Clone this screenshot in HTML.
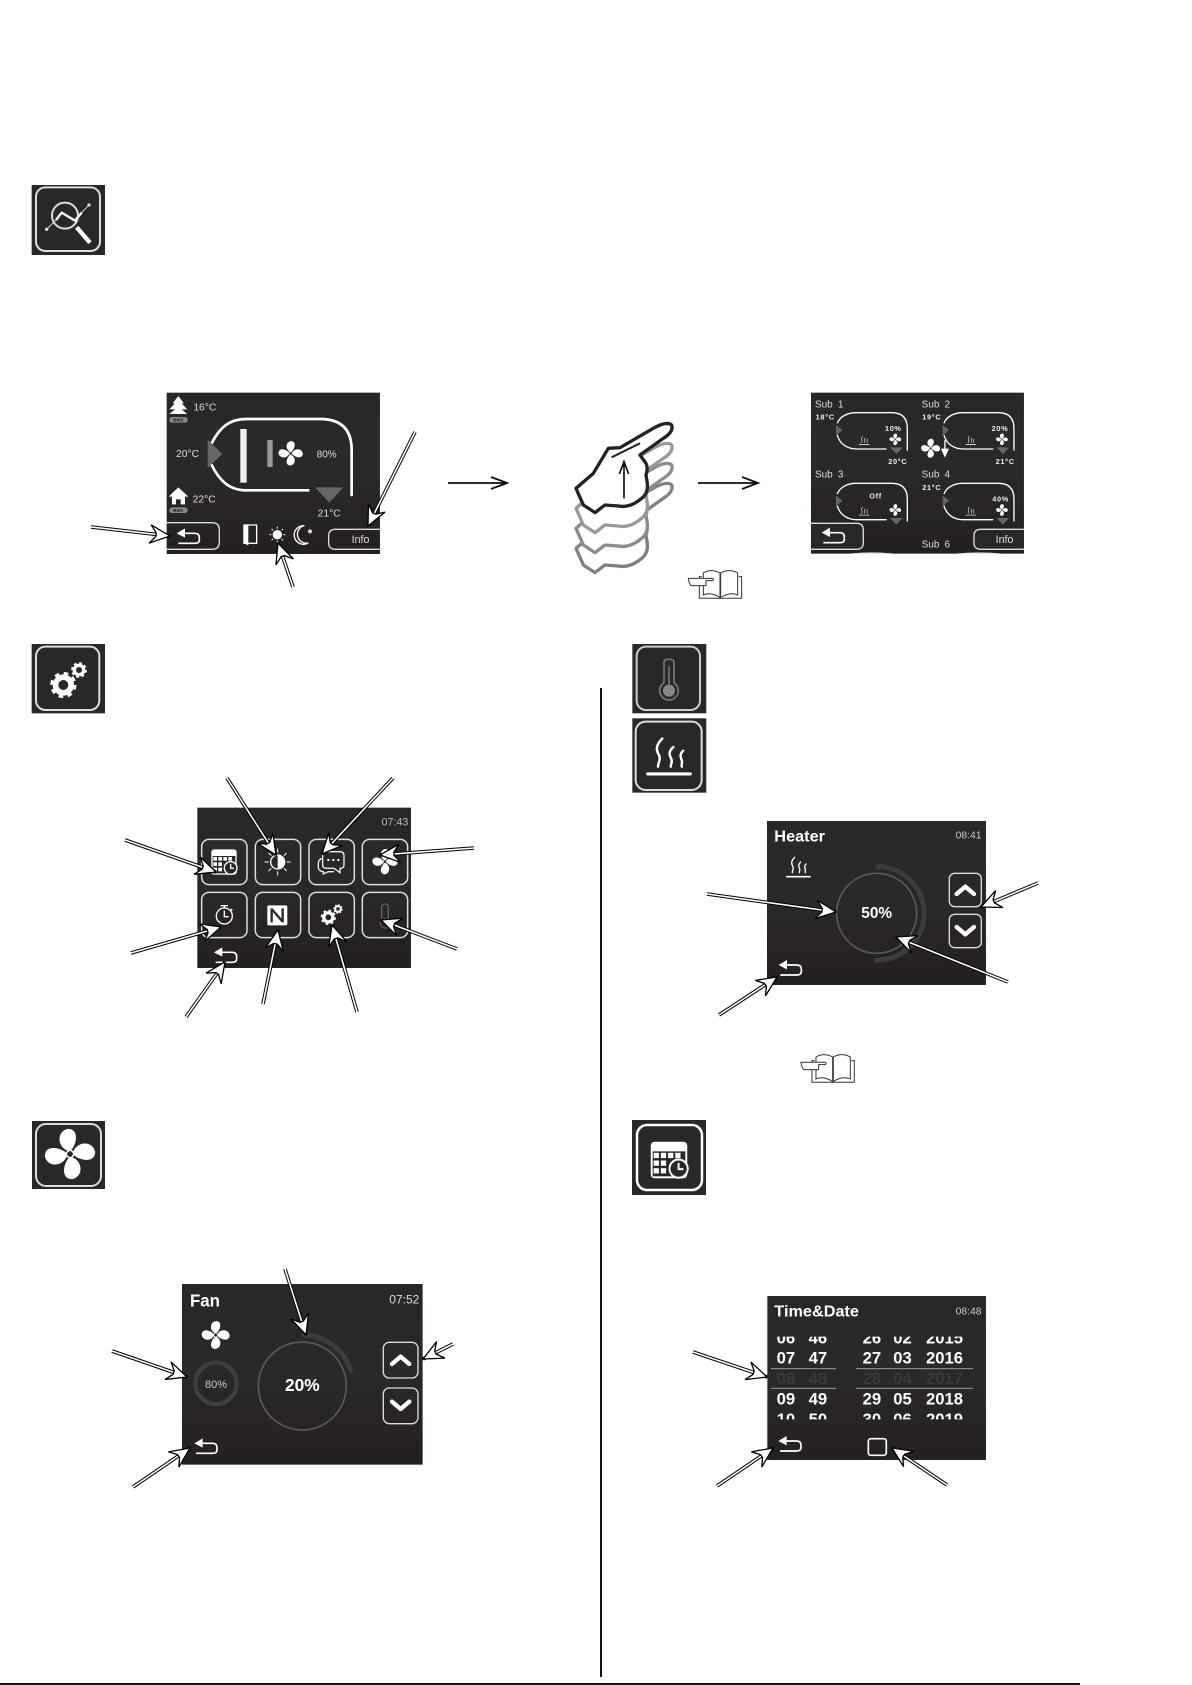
<!DOCTYPE html>
<html><head><meta charset="utf-8">
<style>
html,body{margin:0;padding:0;background:#fff}
svg{display:block}
text{font-family:"Liberation Sans",sans-serif}
</style></head><body>
<svg xmlns="http://www.w3.org/2000/svg" width="1192" height="1685" viewBox="0 0 1192 1685">
<defs>
<linearGradient id="scr" x1="0" y1="0" x2="0" y2="1">
<stop offset="0" stop-color="#2a2728"/><stop offset=".5" stop-color="#2b2829"/><stop offset="1" stop-color="#242021"/>
</linearGradient>
<marker id="h" viewBox="-24 -12 26 24" refX="0" refY="0" markerWidth="26" markerHeight="24" markerUnits="userSpaceOnUse" orient="auto">
<path d="M0,0 L-20,-9 L-14,-1.5 L-14,2 L-20,9.5 Z" fill="#fff" stroke="#000" stroke-width="1.3"/>
</marker>
<g id="back"><path d="M0,0 L25,-15 V13 Z" fill="#fff"/><path d="M25,0 H55 Q68,0 68,13 V20 Q68,30 55,30 H5" fill="none" stroke="#fff" stroke-width="5"/></g>
<g id="fan" fill="#fff">
<g id="bl"><path d="M-3,-6 C-19,-14 -18,-40 2,-42 C20,-40 15,-18 4,-7 Z"/></g>
<use href="#bl" transform="rotate(90)"/><use href="#bl" transform="rotate(180)"/><use href="#bl" transform="rotate(270)"/>
<circle r="6" fill="none" stroke="#fff" stroke-width="2.5"/>
</g>
<g id="heat" fill="none" stroke="#fff" stroke-width="4" stroke-linecap="round">
<path d="M0,60 H70" stroke-width="5"/>
<path d="M24,2 C12,14 14,22 19,30 C22,38 16,44 17,48"/>
<path d="M42,16 C33,24 36,30 39,36 C41,42 37,45 38,48"/>
<path d="M58,22 C52,28 54,33 56,38 C57,42 55,45 56,48"/>
</g>
<g id="cal">
<rect x="-38" y="-38" width="76" height="76" rx="8" fill="#fff"/>
<rect x="-34" y="-18" width="68" height="52" fill="#2a2728"/>
<g fill="#fff">
<rect x="-32" y="-15" width="11" height="11"/><rect x="-17" y="-15" width="11" height="11"/><rect x="-2" y="-15" width="11" height="11"/><rect x="13" y="-15" width="11" height="11"/>
<rect x="-32" y="1" width="11" height="11"/><rect x="-17" y="1" width="11" height="11"/>
<rect x="-32" y="17" width="11" height="11"/><rect x="-17" y="17" width="11" height="11"/>
</g>
<circle cx="20" cy="18" r="19" fill="#2a2728" stroke="#fff" stroke-width="4"/>
<path d="M20,6 V19 H30" fill="none" stroke="#fff" stroke-width="4"/>
</g>
<g id="gear">
<circle r="32" fill="#fff"/>
<circle r="35" fill="none" stroke="#fff" stroke-width="9" stroke-dasharray="13.7 13.8"/>
<circle r="15" fill="#2a2728"/>
</g>
<g id="chev"><path d="M-26,12 L0,-10 L26,12" fill="none" stroke="#fff" stroke-width="13" stroke-linecap="round" stroke-linejoin="round"/></g>
<g id="loop">
<path d="M892,130 C900,108 925,98 948,98 H1055 Q1102,98 1102,145 V212" fill="none" stroke="#fff" stroke-width="4"/>
<path d="M892,165 C900,195 925,207 950,207 H1040" fill="none" stroke="#fff" stroke-width="4"/>
<path d="M888,135 L907,150 L888,168 Z" fill="#666"/>
<path d="M1050,202 H1088 L1069,222 Z" fill="#666"/>
<use href="#heat" transform="translate(958,168) scale(.42)"/>
<use href="#fan" transform="translate(1066,178) scale(.42)"/>
</g>
<g id="book" fill="none" stroke="#333" stroke-width="3">
<path d="M8,25 H0 V90 H127 V25 H118"/>
<path d="M12,80 V14 Q35,0 62,14 V88 Q35,70 12,80 Z" fill="#fff"/>
<path d="M64,14 Q90,0 115,14 V80 Q90,70 64,88 Z" fill="#fff"/>
<path d="M-33,30 H40 Q45,33 40,37 H20 V52 H-25 Q-33,40 -33,30 Z" fill="#fff"/>
</g>
<g id="hand">
<path d="M108,325 L160,280 L205,205 L240,203 L340,145 Q380,122 395,135 Q402,155 370,175 L300,225 L318,250 Q325,265 318,285 L322,310 Q325,340 305,355 Q270,385 235,378 L195,375 L165,398 L130,375 Z" fill="#fff" stroke-width="10" stroke-linejoin="round"/>
</g>
</defs>

<rect width="1192" height="1685" fill="#fff"/>

<!-- Rules -->
<rect x="600" y="688" width="2" height="989" fill="#111"/>
<rect x="0" y="1683" width="1080" height="2" fill="#111"/>

<!-- Analyzer icon -->
<g transform="translate(20,170) scale(.3333)">
<rect x="35" y="45" width="220" height="210" fill="#2a2728"/>
<rect x="48" y="52" width="192" height="191" rx="28" fill="none" stroke="#ddd" stroke-width="6"/>
<circle cx="135" cy="137" r="39" fill="none" stroke="#ddd" stroke-width="6"/>
<path d="M170,172 L210,218" stroke="#fff" stroke-width="13"/>
<path d="M80,178 L108,150 M185,128 L207,105" fill="none" stroke="#ccc" stroke-width="3"/>
<path d="M108,150 L125,128 L165,152 L185,128" fill="none" stroke="#fff" stroke-width="7" stroke-linejoin="round"/>
<circle cx="80" cy="178" r="5" fill="#ddd"/><circle cx="207" cy="105" r="5" fill="#ddd"/>
</g>

<!-- Gear icon -->
<g transform="translate(20,630) scale(.3333)">
<rect x="35" y="42" width="220" height="208" fill="#2a2728"/>
<rect x="48" y="50" width="190" height="190" rx="28" fill="none" stroke="#ddd" stroke-width="6"/>
<use href="#gear" transform="translate(130,165)"/>
<use href="#gear" transform="translate(177,120) scale(.6)"/>
</g>

<!-- Thermometer + heat icons -->
<g transform="translate(620,630) scale(.3333)">
<rect x="37" y="42" width="222" height="208" fill="#2a2728"/>
<rect x="50" y="50" width="190" height="190" rx="28" fill="none" stroke="#ccc" stroke-width="6"/>
<path d="M132,158 V98 Q132,88 147,88 Q162,88 162,98 V158 Q175,168 175,182 A28,28 0 1 1 119,182 Q119,168 132,158 Z" fill="none" stroke="#777" stroke-width="5"/>
<circle cx="147" cy="182" r="18" fill="#888"/><rect x="145" y="110" width="4" height="60" fill="#888"/>
<rect x="37" y="265" width="222" height="223" fill="#2a2728"/>
<rect x="47" y="275" width="198" height="205" rx="30" fill="none" stroke="#ddd" stroke-width="6"/>
<use href="#heat" transform="translate(83,322) scale(1.83)"/>
</g>

<!-- Fan icon -->
<rect x="32" y="1121" width="73" height="68" fill="#2a2728"/>
<rect x="36" y="1124" width="65" height="62" rx="10" fill="none" stroke="#ddd" stroke-width="2"/>
<use href="#fan" transform="translate(70,1154) scale(.6) rotate(-8)"/>

<!-- Calendar icon -->
<rect x="632" y="1120" width="74" height="75" fill="#2a2728"/>
<rect x="637" y="1125" width="65" height="65" rx="10" fill="none" stroke="#fff" stroke-width="2.5"/>
<use href="#cal" transform="translate(669,1160) scale(.48)"/>

<!-- Screen 1 -->
<g transform="translate(60,370) scale(.3333)">
<rect x="320" y="68" width="640" height="484" fill="url(#scr)"/>
<path d="M355,78 L372,100 H365 L382,118 H365 L382,132 H328 L345,118 H328 L345,100 H338 Z" fill="#fff"/>
<rect x="328" y="141" width="55" height="17" rx="8" fill="#888"/>
<text x="355" y="155" font-size="14" font-weight="bold" fill="#222" text-anchor="middle">BMS</text>
<text x="400" y="122" font-size="31" fill="#ddd">16°C</text>
<path d="M455,220 C480,170 510,147 560,147 H780 Q875,147 875,240 V375" fill="none" stroke="#fff" stroke-width="8" stroke-linecap="round"/>
<path d="M455,285 C480,335 510,361 560,361 H745" fill="none" stroke="#fff" stroke-width="8" stroke-linecap="round"/>
<path d="M443,208 L487,252 L443,294 Z" fill="#666"/>
<path d="M765,352 H850 L808,398 Z" fill="#666"/>
<rect x="541" y="177" width="19" height="161" fill="#eee"/>
<rect x="622" y="210" width="16" height="81" fill="#999"/>
<use href="#fan" transform="translate(692,250) scale(.87)"/>
<text x="348" y="261" font-size="31" fill="#ddd">20°C</text>
<text x="770" y="262" font-size="30" fill="#ddd">80%</text>
<text x="773" y="440" font-size="31" fill="#ddd">21°C</text>
<text x="398" y="398" font-size="31" fill="#ddd">22°C</text>
<path d="M355,352 L385,380 H375 V403 H362 V388 H348 V403 H336 V380 H326 Z" fill="#fff"/>
<rect x="328" y="412" width="55" height="17" rx="8" fill="#888"/>
<text x="355" y="426" font-size="14" font-weight="bold" fill="#222" text-anchor="middle">BMS</text>
<path d="M320,458 H456 Q478,458 478,480 V516 Q478,538 456,538 H320" fill="none" stroke="#ddd" stroke-width="4"/>
<use href="#back" transform="translate(350,490)"/>
<path d="M552,465 H590 V520 H552 Z" fill="none" stroke="#fff" stroke-width="4"/>
<path d="M565,462 L552,468 V520 L565,526 Z" fill="#fff"/>
<circle cx="652" cy="494" r="14" fill="#fff"/>
<path d="M652,470 V476 M652,512 V518 M628,494 H634 M670,494 H676 M635,477 L639,481 M669,477 L665,481 M635,511 L639,507 M669,511 L665,507" stroke="#fff" stroke-width="3"/>
<path d="M733,467 A28,28 0 1 0 745,519 A24,24 0 0 1 733,467 Z" fill="none" stroke="#fff" stroke-width="4"/>
<circle cx="750" cy="484" r="6" fill="#ddd"/>
<path d="M960,478 H826 Q806,478 806,498 V518 Q806,538 826,538 H960" fill="none" stroke="#ddd" stroke-width="4"/>
<text x="875" y="519" font-size="32" fill="#ddd">Info</text>
</g>

<!-- Hand -->
<g transform="translate(540,380) scale(.3333)">
<use href="#hand" transform="translate(0,180)" stroke="#808080"/>
<use href="#hand" transform="translate(0,120)" stroke="#8c8c8c"/>
<use href="#hand" transform="translate(0,60)" stroke="#999"/>
<use href="#hand" stroke="#222"/>
<path d="M215,232 L300,190" stroke="#222" stroke-width="6"/>
<path d="M252,355 V248 M238,282 L252,245 L266,282" fill="none" stroke="#111" stroke-width="5"/>
<use href="#book" transform="translate(478,565)"/>
<use href="#book" transform="translate(816,2017)"/>
</g>

<!-- Big arrows -->
<path d="M448,483 H507 M491,477 L507,483 L491,489" fill="none" stroke="#111" stroke-width="1.8"/>
<path d="M698,483 H758 M742,477 L758,483 L742,489" fill="none" stroke="#111" stroke-width="1.8"/>

<!-- Sub screen -->
<g transform="translate(540,380) scale(.3333)">
<rect x="813" y="38" width="639" height="483" fill="url(#scr)"/>
<use href="#loop"/>
<use href="#loop" transform="translate(320,0)"/>
<use href="#loop" transform="translate(0,212)"/>
<use href="#loop" transform="translate(320,212)"/>
<g font-size="30" fill="#ddd" word-spacing="7">
<text x="825" y="82">Sub 1</text><text x="1145" y="82">Sub 2</text>
<text x="825" y="293">Sub 3</text><text x="1145" y="293">Sub 4</text>
<text x="1145" y="503">Sub 6</text>
</g>
<g font-size="22" font-weight="bold" fill="#eee" letter-spacing="2">
<text x="827" y="118">18°C</text><text x="1147" y="118">19°C</text><text x="1147" y="330">21°C</text>
<text x="1045" y="252">20°C</text><text x="1367" y="252">21°C</text>
<text x="1035" y="153">10%</text><text x="1355" y="153">20%</text>
<text x="988" y="355">Off</text><text x="1357" y="365">40%</text>
</g>
<use href="#fan" transform="translate(1172,205) scale(.68)"/>
<path d="M1215,180 V208 M1206,208 H1224 L1215,228 Z" fill="#fff" stroke="#fff" stroke-width="4"/>
<path d="M813,430 H950 Q970,430 970,450 V488 Q970,508 950,508 H813" fill="#2a2728" stroke="#ddd" stroke-width="4"/>
<use href="#back" transform="translate(845,458)"/>
<path d="M1452,448 H1322 Q1302,448 1302,468 V488 Q1302,508 1322,508 H1452" fill="#2a2728" stroke="#ddd" stroke-width="4"/>
<text x="1367" y="489" font-size="32" fill="#ddd">Info</text>
<path d="M925,521 Q995,514 1065,521 Z M1245,521 Q1315,514 1390,521 Z" fill="#fff"/>
</g>

<!-- Menu screen -->
<g transform="translate(110,760) scale(.3333)">
<rect x="262" y="143" width="641" height="481" fill="url(#scr)"/>
<text x="815" y="196" font-size="32" fill="#bbb">07:43</text>
<g fill="none" stroke="#ddd" stroke-width="4.5">
<rect x="275" y="238" width="136" height="136" rx="22"/><rect x="436" y="238" width="136" height="136" rx="22"/>
<rect x="597" y="238" width="136" height="136" rx="22"/><rect x="757" y="238" width="136" height="136" rx="22"/>
<rect x="275" y="397" width="136" height="136" rx="22"/><rect x="436" y="397" width="136" height="136" rx="22"/>
<rect x="597" y="397" width="136" height="136" rx="22"/><rect x="757" y="397" width="136" height="136" rx="22"/>
</g>
<use href="#cal" transform="translate(342,306)"/>
<circle cx="503" cy="306" r="21" fill="none" stroke="#fff" stroke-width="4"/>
<path d="M503,285 A21,21 0 0 1 503,327 Z" fill="#fff"/>
<path d="M503,266 V278 M503,334 V346 M464,306 H476 M530,306 H542 M476,279 L484,287 M530,279 L522,287 M476,333 L484,325 M530,333 L522,325" stroke="#fff" stroke-width="3"/>
<path d="M640,275 H690 Q702,275 702,287 V315 Q702,325 690,325 V338 L672,325 H650 Q638,325 638,315 V287 Q638,275 650,275 Z" fill="none" stroke="#eee" stroke-width="4"/>
<path d="M638,295 Q625,298 625,310 V325 Q630,335 640,335 V342 L655,335 H672" fill="none" stroke="#eee" stroke-width="4"/>
<circle cx="655" cy="300" r="3.5" fill="#fff"/><circle cx="670" cy="300" r="3.5" fill="#fff"/><circle cx="685" cy="300" r="3.5" fill="#fff"/>
<use href="#fan" transform="translate(825,305) scale(.9)"/>
<circle cx="343" cy="468" r="24" fill="none" stroke="#fff" stroke-width="4"/>
<path d="M332,437 H354 M343,437 V444 M343,452 V470 H356 M362,447 L367,452" fill="none" stroke="#fff" stroke-width="4"/>
<rect x="472" y="436" width="60" height="60" rx="4" fill="#fff"/>
<path d="M485,445 V487 M485,447 L518,485 M518,445 V487" fill="none" stroke="#2a2728" stroke-width="7"/>
<use href="#gear" transform="translate(655,472) scale(.58)"/>
<use href="#gear" transform="translate(684,447) scale(.36)"/>
<path d="M815,485 V440 Q815,432 825,432 Q835,432 835,440 V478" fill="none" stroke="#666" stroke-width="4"/>
<circle cx="825" cy="490" r="14" fill="none" stroke="#555" stroke-width="4"/>
<use href="#back" transform="translate(312,577)"/>
</g>

<!-- Heater screen -->
<g transform="translate(690,800) scale(.3333)">
<rect x="231" y="63" width="657" height="492" fill="url(#scr)"/>
<text x="253" y="124" font-size="48" font-weight="bold" fill="#fff" textLength="152" lengthAdjust="spacingAndGlyphs">Heater</text>
<text x="797" y="116" font-size="31" fill="#ccc">08:41</text>
<use href="#heat" transform="translate(290,170)"/>
<circle cx="560" cy="340" r="120" fill="none" stroke="#5a5859" stroke-width="5"/>
<path d="M565,200 A140,140 0 0 1 560,480" fill="none" stroke="#3e3c3d" stroke-width="15" stroke-linecap="round"/>
<text x="560" y="354" font-size="46" font-weight="bold" fill="#fff" text-anchor="middle">50%</text>
<rect x="778" y="220" width="96" height="100" rx="16" fill="none" stroke="#ddd" stroke-width="4"/>
<rect x="778" y="343" width="96" height="100" rx="16" fill="none" stroke="#ddd" stroke-width="4"/>
<use href="#chev" transform="translate(826,270)"/>
<use href="#chev" transform="translate(826,393) rotate(180)"/>
<use href="#back" transform="translate(266,495)"/>
</g>

<!-- Fan screen -->
<g transform="translate(100,1260) scale(.3333)">
<rect x="246" y="72" width="722" height="542" fill="url(#scr)"/>
<text x="270" y="139" font-size="54" font-weight="bold" fill="#fff" textLength="90" lengthAdjust="spacingAndGlyphs">Fan</text>
<text x="868" y="131" font-size="36" fill="#ddd">07:52</text>
<use href="#fan" transform="translate(347,225)"/>
<circle cx="348" cy="370" r="62" fill="none" stroke="#403e3f" stroke-width="13"/>
<text x="348" y="384" font-size="33" fill="#ccc" text-anchor="middle">80%</text>
<circle cx="607" cy="378" r="132" fill="none" stroke="#5a5859" stroke-width="5"/>
<path d="M612,225 A153,153 0 0 1 752,330" fill="none" stroke="#3e3c3d" stroke-width="15" stroke-linecap="round"/>
<text x="607" y="393" font-size="52" font-weight="bold" fill="#fff" text-anchor="middle">20%</text>
<rect x="850" y="247" width="104" height="107" rx="18" fill="none" stroke="#ddd" stroke-width="4"/>
<rect x="850" y="384" width="104" height="107" rx="18" fill="none" stroke="#ddd" stroke-width="4"/>
<use href="#chev" transform="translate(902,300)"/>
<use href="#chev" transform="translate(902,437) rotate(180)"/>
<use href="#back" transform="translate(283,550)"/>
</g>

<!-- Time&Date screen -->
<g transform="translate(680,1280) scale(.3333)">
<rect x="262" y="48" width="656" height="492" fill="url(#scr)"/>
<text x="283" y="110" font-size="48" font-weight="bold" fill="#fff" textLength="254" lengthAdjust="spacingAndGlyphs">Time&amp;Date</text>
<text x="827" y="103" font-size="31" fill="#ccc">08:48</text>
<svg x="262" y="170" width="656" height="248" viewBox="262 170 656 248">
<g font-size="50" font-weight="bold" fill="#fff">
<text x="290" y="191">06</text><text x="386" y="191">46</text><text x="548" y="191">26</text><text x="640" y="191">02</text><text x="738" y="191">2015</text>
<text x="290" y="251">07</text><text x="386" y="251">47</text><text x="548" y="251">27</text><text x="640" y="251">03</text><text x="738" y="251">2016</text>
<g fill="#3a3839"><text x="290" y="312">08</text><text x="386" y="312">48</text><text x="548" y="312">28</text><text x="640" y="312">04</text><text x="738" y="312">2017</text></g>
<text x="290" y="374">09</text><text x="386" y="374">49</text><text x="548" y="374">29</text><text x="640" y="374">05</text><text x="738" y="374">2018</text>
<text x="290" y="435">10</text><text x="386" y="435">50</text><text x="548" y="435">30</text><text x="640" y="435">06</text><text x="738" y="435">2019</text>
</g>
<path d="M273,266 H468 M273,325 H468 M528,266 H879 M528,325 H879" stroke="#aaa" stroke-width="2.5"/>
</svg>
<rect x="565" y="476" width="54" height="50" rx="8" fill="none" stroke="#fff" stroke-width="5"/>
<use href="#back" transform="translate(295,483)"/>
</g>

<!-- Callouts -->
<g id="shafts" fill="none" stroke-linecap="butt">
<g stroke="#000" stroke-width="3.6">
<path d="M91,527 L170,536"/><path d="M415,432 L368,526"/><path d="M293,587 L278,543"/>
<path d="M125,840 L216,872"/><path d="M227,778 L276,855"/><path d="M393,778 L322,854"/><path d="M474,848 L380,855"/>
<path d="M131,953 L221,927"/><path d="M263,1004 L278,930"/><path d="M357,1012 L332,925"/><path d="M457,949 L381,920"/><path d="M186,1017 L225,962"/>
<path d="M707,894 L836,912"/><path d="M1038,883 L981,907"/><path d="M1008,982 L896,937"/><path d="M719,1015 L777,977"/>
<path d="M112,1351 L187,1377"/><path d="M285,1269 L306,1335"/><path d="M453,1344 L423,1359"/><path d="M133,1487 L190,1448"/>
<path d="M693,1352 L767,1377"/><path d="M717,1486 L773,1448"/><path d="M947,1485 L892,1448"/>
</g>
<g stroke="#fff" stroke-width="1.6" marker-end="url(#h)">
<path d="M91,527 L170,536"/><path d="M415,432 L368,526"/><path d="M293,587 L278,543"/>
<path d="M125,840 L216,872"/><path d="M227,778 L276,855"/><path d="M393,778 L322,854"/><path d="M474,848 L380,855"/>
<path d="M131,953 L221,927"/><path d="M263,1004 L278,930"/><path d="M357,1012 L332,925"/><path d="M457,949 L381,920"/><path d="M186,1017 L225,962"/>
<path d="M707,894 L836,912"/><path d="M1038,883 L981,907"/><path d="M1008,982 L896,937"/><path d="M719,1015 L777,977"/>
<path d="M112,1351 L187,1377"/><path d="M285,1269 L306,1335"/><path d="M453,1344 L423,1359"/><path d="M133,1487 L190,1448"/>
<path d="M693,1352 L767,1377"/><path d="M717,1486 L773,1448"/><path d="M947,1485 L892,1448"/>
</g>
</g>
</svg>
</body></html>
